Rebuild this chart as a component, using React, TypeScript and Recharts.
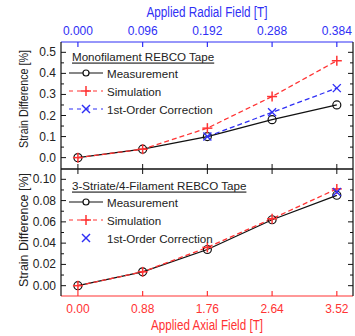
import React from 'react';
import { LineChart, Line, XAxis, YAxis } from 'recharts';

const axialField = [0, 0.88, 1.76, 2.64, 3.52];
const radialLabels = ['0.000', '0.096', '0.192', '0.288', '0.384'];

// Monofilament tape (top panel)
const monoMeasurement = [0, 0.04, 0.1, 0.18, 0.25];
const monoSimulation = [0, 0.04, 0.14, 0.29, 0.46];
const monoCorrection = [null, null, 0.1, 0.215, 0.33];

// 3-striate / 4-filament tape (bottom panel)
const striMeasurement = [0, 0.013, 0.034, 0.062, 0.085];
const striSimulation = [0, 0.013, 0.036, 0.063, 0.091];
const striCorrection = [null, null, null, null, 0.088];

const monoTicks = [0, 0.05, 0.1, 0.15, 0.2, 0.25, 0.3, 0.35, 0.4, 0.45, 0.5];
const striTicks = [0, 0.01, 0.02, 0.03, 0.04, 0.05, 0.06, 0.07, 0.08, 0.09, 0.1];

const FONT = "'Liberation Sans', Arial, sans-serif";
const BLUE = '#2f2ff5';
const RED = '#ff3333';

const monoData = axialField.map((x, i) => ({
  x,
  meas: monoMeasurement[i],
  sim: monoSimulation[i],
  corr: monoCorrection[i],
}));

const striData = axialField.map((x, i) => ({
  x,
  meas: striMeasurement[i],
  sim: striSimulation[i],
  corr: striCorrection[i],
}));

const CircleDot = (p: any) => {
  if (p.cx == null || p.cy == null || p.value == null) return <g key={p.key} />;
  return <circle key={p.key} cx={p.cx} cy={p.cy} r={4} fill="none" stroke="#111" strokeWidth={1.2} />;
};

const PlusDot = (p: any) => {
  if (p.cx == null || p.cy == null || p.value == null) return <g key={p.key} />;
  const s = 5;
  return (
    <g key={p.key} stroke={RED} strokeWidth={1.5}>
      <line x1={p.cx - s} y1={p.cy} x2={p.cx + s} y2={p.cy} />
      <line x1={p.cx} y1={p.cy - s} x2={p.cx} y2={p.cy + s} />
    </g>
  );
};

const CrossDot = (p: any) => {
  if (p.cx == null || p.cy == null || p.value == null) return <g key={p.key} />;
  const s = 4;
  return (
    <g key={p.key} stroke={BLUE} strokeWidth={1.4}>
      <line x1={p.cx - s} y1={p.cy - s} x2={p.cx + s} y2={p.cy + s} />
      <line x1={p.cx - s} y1={p.cy + s} x2={p.cx + s} y2={p.cy - s} />
    </g>
  );
};

// ticks are drawn inward, so each tick component draws its own mark
const leftTick = (step: number, digits: number) => (p: any) => {
  const v = p.payload.value;
  const major = Math.abs(v / step - Math.round(v / step)) < 1e-6;
  return (
    <g>
      <line x1={p.x} y1={p.y} x2={p.x + (major ? 5 : 3)} y2={p.y} stroke="#111" />
      {major && (
        <text x={p.x - 5} y={p.y} textAnchor="end" dominantBaseline="central" fontSize={12} fontFamily={FONT} fill="#222">
          {v.toFixed(digits)}
        </text>
      )}
    </g>
  );
};

const rightTick = (step: number) => (p: any) => {
  const v = p.payload.value;
  const major = Math.abs(v / step - Math.round(v / step)) < 1e-6;
  return <line x1={p.x} y1={p.y} x2={p.x - (major ? 5 : 3)} y2={p.y} stroke="#111" />;
};

const radialTick = (p: any) => (
  <g>
    <line x1={p.x} y1={p.y} x2={p.x} y2={p.y + 5} stroke={BLUE} strokeWidth={1.2} />
    <text x={p.x} y={p.y - 11} textAnchor="middle" dominantBaseline="central" fontSize={12} fontFamily={FONT} fill={BLUE}>
      {radialLabels[p.index]}
    </text>
  </g>
);

const axialTick = (p: any) => (
  <g>
    <line x1={p.x} y1={p.y} x2={p.x} y2={p.y - 5} stroke={RED} strokeWidth={1.2} />
    <text x={p.x} y={p.y + 13} textAnchor="middle" dominantBaseline="central" fontSize={12} fontFamily={FONT} fill={RED}>
      {p.payload.value.toFixed(2)}
    </text>
  </g>
);

const upTick = (p: any) => <line x1={p.x} y1={p.y} x2={p.x} y2={p.y - 5} stroke="#111" />;
const downTick = (p: any) => <line x1={p.x} y1={p.y} x2={p.x} y2={p.y + 5} stroke="#111" />;

const X_DOMAIN: [number, number] = [-0.23, 3.74];

const LegendBlock = ({ y, title, corrLine }: { y: number; title: string; corrLine: boolean }) => (
  <g fontFamily={FONT} fontSize={11.6} fill="#222">
    <text x={72} y={y} dominantBaseline="central" textDecoration="underline">
      {title}
    </text>
    <line x1={69} y1={y + 17} x2={103} y2={y + 17} stroke="#111" strokeWidth={1.2} />
    <circle cx={86} cy={y + 17} r={3} fill="#fff" stroke="#111" strokeWidth={1.2} />
    <text x={107} y={y + 17} dominantBaseline="central">Measurement</text>
    <line x1={69} y1={y + 35} x2={103} y2={y + 35} stroke={RED} strokeWidth={1.2} strokeDasharray="4 4" />
    <line x1={81} y1={y + 35} x2={91} y2={y + 35} stroke={RED} strokeWidth={1.5} />
    <line x1={86} y1={y + 30} x2={86} y2={y + 40} stroke={RED} strokeWidth={1.5} />
    <text x={107} y={y + 35} dominantBaseline="central">Simulation</text>
    {corrLine && (
      <line x1={69} y1={y + 53} x2={103} y2={y + 53} stroke={BLUE} strokeWidth={1.2} strokeDasharray="4 4" />
    )}
    <line x1={82} y1={y + 49} x2={90} y2={y + 57} stroke={BLUE} strokeWidth={1.4} />
    <line x1={82} y1={y + 57} x2={90} y2={y + 49} stroke={BLUE} strokeWidth={1.4} />
    <text x={107} y={y + 53} dominantBaseline="central">1st-Order Correction</text>
  </g>
);

export default function App() {
  return (
    <div style={{ position: 'absolute', left: 0, top: 0, width: 355, height: 336, background: '#fff' }}>
      <div style={{ position: 'absolute', left: 0, top: 0 }}>
        <LineChart width={355} height={170} data={monoData} margin={{ top: 0, right: 1, bottom: 0, left: 0 }}>
          <XAxis
            xAxisId="top"
            orientation="top"
            dataKey="x"
            type="number"
            domain={X_DOMAIN}
            allowDataOverflow
            ticks={axialField}
            interval={0}
            height={42}
            tickSize={0}
            tickMargin={0}
            tickLine={false}
            axisLine={{ stroke: BLUE, strokeWidth: 1.2 }}
            tick={radialTick}
          />
          <XAxis
            dataKey="x"
            type="number"
            domain={X_DOMAIN}
            allowDataOverflow
            ticks={axialField}
            interval={0}
            height={1}
            tickSize={0}
            tickMargin={0}
            tickLine={false}
            axisLine={{ stroke: '#111', strokeWidth: 1.2 }}
            tick={upTick}
          />
          <YAxis
            type="number"
            domain={[-0.054, 0.549]}
            allowDataOverflow
            ticks={monoTicks}
            interval={0}
            width={61}
            tickSize={0}
            tickMargin={0}
            tickLine={false}
            axisLine={{ stroke: '#111', strokeWidth: 1.2 }}
            tick={leftTick(0.1, 1)}
          />
          <YAxis
            yAxisId="r"
            orientation="right"
            type="number"
            domain={[-0.054, 0.549]}
            allowDataOverflow
            ticks={monoTicks}
            interval={0}
            width={1}
            tickSize={0}
            tickMargin={0}
            tickLine={false}
            axisLine={{ stroke: '#111', strokeWidth: 1.2 }}
            tick={rightTick(0.1)}
          />
          <Line dataKey="meas" stroke="#111" strokeWidth={1.3} dot={CircleDot} isAnimationActive={false} />
          <Line dataKey="sim" stroke={RED} strokeWidth={1.3} strokeDasharray="5 3" dot={PlusDot} isAnimationActive={false} />
          <Line dataKey="corr" stroke={BLUE} strokeWidth={1.3} strokeDasharray="5 3" dot={CrossDot} isAnimationActive={false} />
        </LineChart>
      </div>
      <div style={{ position: 'absolute', left: 0, top: 168 }}>
        <LineChart width={355} height={168} data={striData} margin={{ top: 0, right: 1, bottom: 0, left: 0 }}>
          <XAxis
            xAxisId="top"
            orientation="top"
            dataKey="x"
            type="number"
            domain={X_DOMAIN}
            allowDataOverflow
            ticks={axialField}
            interval={0}
            height={1}
            tickSize={0}
            tickMargin={0}
            tickLine={false}
            axisLine={{ stroke: '#111', strokeWidth: 1.2 }}
            tick={downTick}
          />
          <XAxis
            dataKey="x"
            type="number"
            domain={X_DOMAIN}
            allowDataOverflow
            ticks={axialField}
            interval={0}
            height={40}
            tickSize={0}
            tickMargin={0}
            tickLine={false}
            axisLine={{ stroke: RED, strokeWidth: 1.2 }}
            tick={axialTick}
          />
          <YAxis
            type="number"
            domain={[-0.0097, 0.1097]}
            allowDataOverflow
            ticks={striTicks}
            interval={0}
            width={61}
            tickSize={0}
            tickMargin={0}
            tickLine={false}
            axisLine={{ stroke: '#111', strokeWidth: 1.2 }}
            tick={leftTick(0.02, 2)}
          />
          <YAxis
            yAxisId="r"
            orientation="right"
            type="number"
            domain={[-0.0097, 0.1097]}
            allowDataOverflow
            ticks={striTicks}
            interval={0}
            width={1}
            tickSize={0}
            tickMargin={0}
            tickLine={false}
            axisLine={{ stroke: '#111', strokeWidth: 1.2 }}
            tick={rightTick(0.02)}
          />
          <Line dataKey="meas" stroke="#111" strokeWidth={1.3} dot={CircleDot} isAnimationActive={false} />
          <Line dataKey="sim" stroke={RED} strokeWidth={1.3} strokeDasharray="5 3" dot={PlusDot} isAnimationActive={false} />
          <Line dataKey="corr" stroke="none" dot={CrossDot} isAnimationActive={false} />
        </LineChart>
      </div>
      <svg width={355} height={336} style={{ position: 'absolute', left: 0, top: 0, pointerEvents: 'none' }}>
        <text x={207} y={12} textAnchor="middle" dominantBaseline="central" fontFamily={FONT} fontSize={14} fill={BLUE} textLength={121} lengthAdjust="spacingAndGlyphs">
          Applied Radial Field [T]
        </text>
        <text x={207} y={325} textAnchor="middle" dominantBaseline="central" fontFamily={FONT} fontSize={14} fill={RED} textLength={112} lengthAdjust="spacingAndGlyphs">
          Applied Axial Field [T]
        </text>
        <text transform="translate(23,99) rotate(-90)" textAnchor="middle" dominantBaseline="central" fontFamily={FONT} fontSize={13} fill="#222" textLength={98} lengthAdjust="spacingAndGlyphs">
          Strain Difference [%]
        </text>
        <text transform="translate(23,230) rotate(-90)" textAnchor="middle" dominantBaseline="central" fontFamily={FONT} fontSize={13} fill="#222" textLength={114} lengthAdjust="spacingAndGlyphs">
          Strain Difference [%]
        </text>
        <LegendBlock y={56} title="Monofilament REBCO Tape" corrLine />
        <LegendBlock y={185} title="3-Striate/4-Filament REBCO Tape" corrLine={false} />
      </svg>
    </div>
  );
}
